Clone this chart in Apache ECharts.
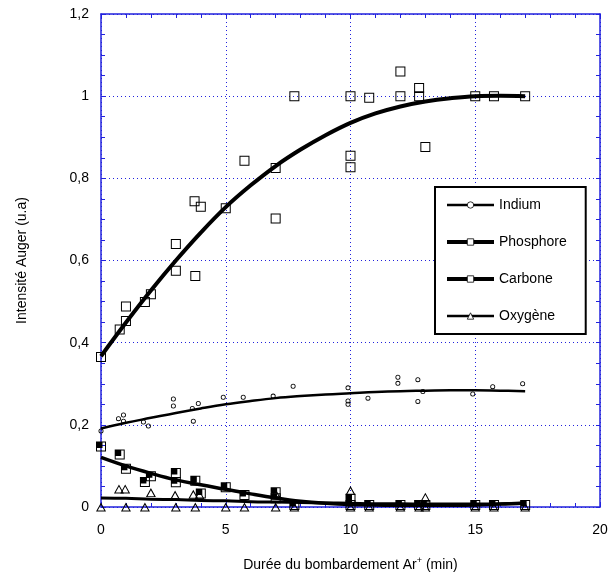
<!DOCTYPE html>
<html>
<head>
<meta charset="utf-8">
<script src="https://cdn.jsdelivr.net/npm/echarts@6/dist/echarts.min.js"></script>
<style>
  html, body { margin: 0; padding: 0; background: #fff; }
  #chart { width: 608px; height: 577px; }
</style>
</head>
<body>
<div id="chart"></div>
<script>
// measured points [time (min), intensity]
const indiumPts = [[0,0.185],[0.7,0.215],[0.9,0.224],[0.9,0.209],[1.7,0.207],[1.9,0.197],[2.9,0.263],[2.9,0.246],[3.66,0.24],[3.7,0.209],[3.9,0.252],[4.9,0.267],[5.7,0.267],[6.9,0.27],[7.7,0.294],[9.9,0.29],[9.9,0.258],[9.9,0.25],[10.7,0.265],[11.9,0.316],[11.9,0.301],[12.7,0.31],[12.7,0.257],[12.9,0.281],[14.9,0.275],[15.7,0.293],[16.9,0.3]];
const phosphorePts = [[0,0.365],[0.75,0.432],[1,0.453],[1,0.488],[1.76,0.499],[2,0.518],[3,0.575],[3,0.64],[3.78,0.562],[3.75,0.744],[4,0.731],[5,0.727],[5.75,0.843],[7,0.702],[7,0.825],[7.75,1.0],[10,1.0],[10,0.855],[10,0.827],[10.75,0.996],[12,1.06],[12,1.0],[12.75,1.02],[12.75,1.0],[13,0.876],[15,1.0],[15.75,1.0],[17,1.0]];
const carbonePts = [[0,0.147],[0.75,0.128],[1,0.093],[1.76,0.061],[2,0.075],[3,0.083],[3,0.06],[3.78,0.064],[4,0.033],[5,0.048],[5.75,0.029],[7,0.036],[7,0.021],[7.75,0.005],[10,0.02],[10,0.005],[10.75,0.005],[12,0.005],[12.75,0.005],[13,0.005],[15,0.005],[15.75,0.005],[17,0.005]];
const oxygenePts = [[0,0],[1,0],[1.76,0],[3,0],[3.78,0],[5,0],[5.75,0],[7,0],[7.75,0],[10,0],[10.75,0],[12,0],[12.75,0],[13,0],[15,0],[15.75,0],[17,0],
  [0.72,0.044],[0.97,0.044],[2,0.035],[2.97,0.029],[3.7,0.031],[3.95,0.03],[7,0.033],[10,0.04],[13,0.024]];

// fitted curves, read at each minute 0..17
const fitX = [0,1,2,3,4,5,6,7,8,9,10,11,12,13,14,15,16,17];
const indiumFit = [0.191,0.205,0.217,0.229,0.24,0.25,0.258,0.265,0.27,0.274,0.277,0.28,0.282,0.283,0.284,0.284,0.283,0.282];
const phosphoreFit = [0.367,0.449,0.527,0.6,0.668,0.73,0.783,0.83,0.87,0.905,0.935,0.958,0.975,0.987,0.995,1.0,1.001,1.0];
const carboneFit = [0.121,0.1,0.082,0.066,0.054,0.043,0.032,0.022,0.014,0.009,0.006,0.005,0.004,0.004,0.004,0.005,0.007,0.01];
const oxygeneFit = [0.022,0.021,0.019,0.018,0.016,0.015,0.013,0.012,0.011,0.01,0.009,0.008,0.008,0.007,0.007,0.007,0.008,0.009];

const names = ['Indium', 'Phosphore', 'Carbone', 'Oxygène'];
const legendWidths = [2.5, 4, 4, 2.5];

// hollow marker shapes
const SQ = 'path://M0,0H10V10H0Z M1,1V9H9V1Z';
const SQ_HALF = 'path://M0,0H10V10H0Z M1,1V9H9V1Z M1,1H6.5V6.5H1Z';
const TRI = 'path://M5,0L10,10H0Z M5,2.4L1.7,9H8.3Z';
const CIRC = 'path://M5,0A5,5 0 1,1 5,10A5,5 0 1,1 5,0Z M5,1.6A3.4,3.4 0 1,0 5,8.4A3.4,3.4 0 1,0 5,1.6Z';

const blue = '#2222dd';
const font = 'Liberation Sans, Arial, sans-serif';

function pair(xs, ys) {
  return xs.map((x, i) => [x, ys[i]]);
}

// fitted line; its symbol is only used by the legend icon
function fitLine(name, ys, width, symbol) {
  return {
    name: name,
    type: 'line',
    data: pair(fitX, ys),
    smooth: 0.4,
    symbol: symbol,
    showSymbol: false,
    silent: true,
    z: 3,
    itemStyle: { color: '#fff', borderColor: '#000', borderWidth: 0.8 },
    lineStyle: { color: '#000', width: width }
  };
}

function dots(name, data, symbol, size) {
  return {
    name: name,
    type: 'scatter',
    data: data,
    symbol: symbol,
    symbolSize: size,
    clip: false,
    z: 4,
    itemStyle: { color: '#000', borderWidth: 0, opacity: 1 }
  };
}

const chartDom = document.getElementById('chart');
const myChart = echarts.init(chartDom);

const axisCommon = {
  type: 'value',
  axisLine: { show: true, onZero: false, lineStyle: { color: blue, width: 1.5 } },
  axisTick: { show: true, inside: true, length: 4, lineStyle: { color: blue } },
  minorTick: { show: true, length: 4, lineStyle: { color: blue } }
};

const option = {
  animation: false,
  backgroundColor: '#fff',
  textStyle: { fontFamily: font },
  grid: { left: 101, right: 8, top: 14, bottom: 70, outerBoundsMode: 'none', containLabel: false },
  legend: {
    data: names.map((n, i) => ({ name: n, lineStyle: { width: legendWidths[i] }, itemStyle: { borderWidth: 0.8 } })),
    orient: 'vertical',
    left: 435,
    top: 187,
    itemWidth: 47,
    itemHeight: 8,
    itemGap: 23,
    padding: [11, 19, 11, 10],
    borderColor: '#000',
    borderWidth: 2,
    backgroundColor: '#fff',
    textStyle: { fontFamily: font, fontSize: 14, color: '#000' }
  },
  xAxis: [
    Object.assign({}, axisCommon, {
      min: 0, max: 20, interval: 5, position: 'bottom',
      minorTick: Object.assign({}, axisCommon.minorTick, { splitNumber: 5 }),
      splitLine: { show: true, lineStyle: { color: blue, type: [1, 3], width: 1 } },
      axisLabel: { color: '#000', fontSize: 14, fontFamily: font, margin: 16 },
      name: 'Durée du bombardement Ar{sup|+} (min)',
      nameLocation: 'middle',
      nameGap: 49,
      nameTextStyle: {
        color: '#000', fontSize: 14, fontFamily: font, lineHeight: 18,
        rich: { sup: { fontSize: 9, lineHeight: 9, fontFamily: font, color: '#000', verticalAlign: 'top' } }
      }
    }),
    Object.assign({}, axisCommon, {
      min: 0, max: 20, interval: 5, position: 'top',
      minorTick: Object.assign({}, axisCommon.minorTick, { splitNumber: 5 }),
      splitLine: { show: false },
      axisLabel: { show: false }
    })
  ],
  yAxis: [
    Object.assign({}, axisCommon, {
      min: 0, max: 1.2, interval: 0.2, position: 'left',
      minorTick: Object.assign({}, axisCommon.minorTick, { splitNumber: 4 }),
      splitLine: { show: true, lineStyle: { color: blue, type: [1, 3], width: 1 } },
      axisLabel: {
        color: '#000', fontSize: 14, fontFamily: font, margin: 12,
        formatter: v => String(Math.round(v * 10) / 10).replace('.', ',')
      },
      name: 'Intensité Auger (u.a)',
      nameLocation: 'middle',
      nameGap: 72,
      nameTextStyle: { color: '#000', fontSize: 14, fontFamily: font }
    }),
    Object.assign({}, axisCommon, {
      min: 0, max: 1.2, interval: 0.2, position: 'right',
      minorTick: Object.assign({}, axisCommon.minorTick, { splitNumber: 4 }),
      splitLine: { show: false },
      axisLabel: { show: false }
    })
  ],
  series: [
    fitLine('Indium', indiumFit, 2.5, 'circle'),
    fitLine('Phosphore', phosphoreFit, 4, 'rect'),
    fitLine('Carbone', carboneFit, 3.5, 'rect'),
    fitLine('Oxygène', oxygeneFit, 3, 'triangle'),
    dots('Indium', indiumPts, CIRC, 5),
    dots('Phosphore', phosphorePts, SQ, 10),
    dots('Carbone', carbonePts, SQ_HALF, 10),
    dots('Oxygène', oxygenePts, TRI, [10, 9])
  ]
};

option && myChart.setOption(option);
window.addEventListener('resize', function () {
  myChart.resize();
});
</script>
</body>
</html>
